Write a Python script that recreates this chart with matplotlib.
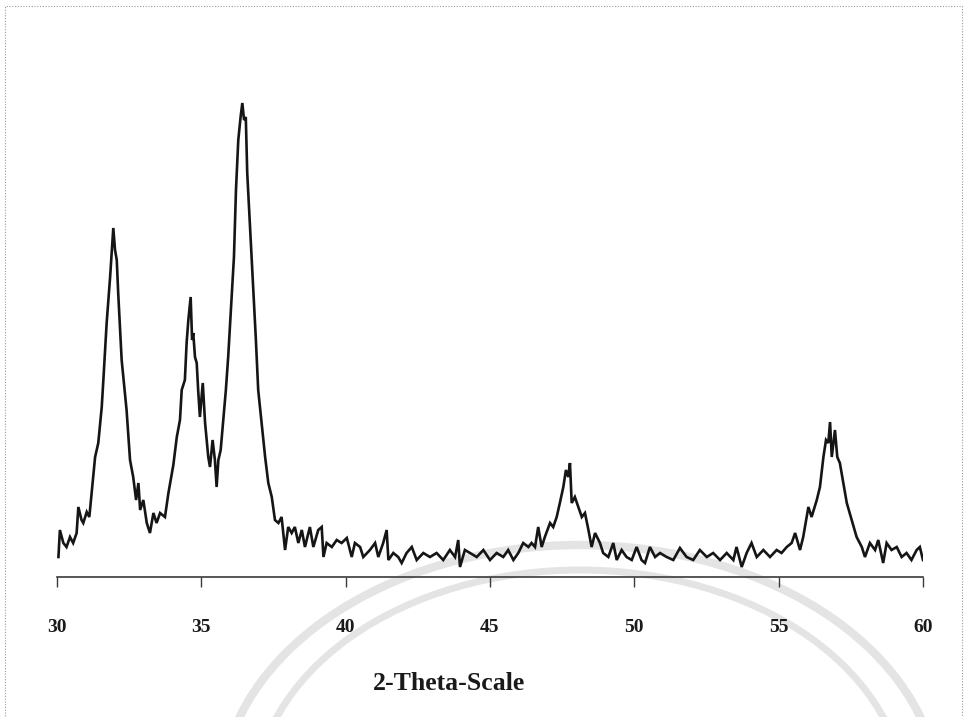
import matplotlib
matplotlib.use("Agg")
import matplotlib.pyplot as plt
from matplotlib.patches import Arc, Rectangle

two_theta = [
    30.05, 30.10, 30.22, 30.33, 30.45, 30.56, 30.68, 30.74, 30.85, 30.91,
    31.03, 31.12, 31.20, 31.32, 31.43, 31.55, 31.60, 31.72, 31.84, 31.95,
    32.01, 32.07, 32.12, 32.24, 32.41, 32.53, 32.64, 32.74, 32.82, 32.88,
    32.99, 33.11, 33.22, 33.34, 33.45, 33.57, 33.74, 33.86, 34.03, 34.15,
    34.26, 34.32, 34.43, 34.49, 34.55, 34.63, 34.68, 34.72, 34.78, 34.84,
    34.89, 34.95, 35.05, 35.13, 35.24, 35.30, 35.39, 35.47, 35.53, 35.59,
    35.67, 35.76, 35.85, 35.93, 36.05, 36.13, 36.20, 36.28, 36.36, 36.42,
    36.48, 36.54, 36.59, 36.68, 36.80, 36.89, 36.97, 37.09, 37.21, 37.32,
    37.44, 37.55, 37.67, 37.78, 37.90, 38.01, 38.13, 38.24, 38.36, 38.48,
    38.59, 38.76, 38.88, 39.05, 39.17, 39.23, 39.34, 39.52, 39.69, 39.86,
    40.04, 40.21, 40.32, 40.50, 40.61, 40.84, 41.02, 41.13, 41.30, 41.42,
    41.48, 41.65, 41.82, 41.94, 42.11, 42.29, 42.46, 42.69, 42.92, 43.15,
    43.38, 43.61, 43.79, 43.90, 43.96, 44.13, 44.31, 44.54, 44.77, 45.00,
    45.23, 45.46, 45.63, 45.81, 45.98, 46.15, 46.33, 46.44, 46.56, 46.67,
    46.79, 46.90, 47.08, 47.19, 47.31, 47.42, 47.54, 47.63, 47.71, 47.77,
    47.83, 47.94, 48.06, 48.18, 48.29, 48.41, 48.52, 48.64, 48.81, 48.92,
    49.10, 49.27, 49.39, 49.56, 49.73, 49.91, 50.08, 50.25, 50.37, 50.54,
    50.72, 50.89, 51.12, 51.35, 51.58, 51.81, 52.04, 52.27, 52.51, 52.73,
    52.97, 53.20, 53.43, 53.54, 53.72, 53.89, 54.06, 54.24, 54.47, 54.70,
    54.93, 55.10, 55.28, 55.45, 55.57, 55.74, 55.85, 56.03, 56.14, 56.32,
    56.43, 56.55, 56.64, 56.72, 56.78, 56.84, 56.95, 57.03, 57.12, 57.24,
    57.36, 57.53, 57.70, 57.88, 57.99, 58.16, 58.34, 58.45, 58.62, 58.74,
    58.91, 59.09, 59.26, 59.43, 59.60, 59.78, 59.89, 60.00,
]
intensity = [
    20, 47, 34, 30, 40, 34, 44, 70, 57, 54,
    65, 60, 84, 120, 134, 170, 194, 254, 300, 349,
    327, 317, 284, 217, 167, 117, 100, 77, 94, 67,
    77, 54, 44, 64, 54, 64, 60, 84, 112, 140,
    157, 187, 197, 234, 257, 280, 237, 244, 220, 214,
    187, 160, 194, 154, 120, 110, 137, 117, 90, 117,
    127, 157, 187, 220, 280, 320, 387, 437, 460, 474,
    457, 460, 404, 354, 287, 237, 187, 154, 120, 94,
    80, 57, 54, 60, 27, 50, 44, 50, 34, 47,
    30, 50, 30, 47, 50, 20, 34, 30, 37, 34,
    39, 20, 34, 30, 20, 27, 34, 20, 34, 47,
    17, 24, 20, 14, 24, 30, 17, 24, 20, 24,
    17, 27, 20, 37, 10, 27, 24, 20, 27, 17,
    24, 20, 27, 17, 24, 34, 30, 34, 30, 50,
    30, 40, 54, 50, 60, 74, 90, 107, 100, 114,
    74, 80, 70, 60, 64, 47, 30, 44, 34, 24,
    20, 34, 17, 27, 20, 17, 30, 17, 14, 30,
    20, 24, 20, 17, 29, 20, 17, 27, 20, 24,
    17, 24, 17, 30, 10, 24, 34, 20, 27, 20,
    27, 24, 30, 34, 44, 27, 40, 70, 60, 77,
    90, 120, 137, 134, 155, 120, 147, 120, 114, 94,
    74, 57, 40, 30, 20, 34, 27, 37, 14, 34,
    27, 30, 20, 24, 17, 27, 30, 17,
]

x_ticks = [30, 35, 40, 45, 50, 55, 60]
x_label = "2-Theta-Scale"

W, H = 966, 717
fig = plt.figure(figsize=(W / 100, H / 100), dpi=100)
fig.patch.set_facecolor("white")

# faint background watermark arcs (figure pixel space)
for (cx, cy, w, h, lw) in [(580, 800, 720, 510, 6), (580, 800, 650, 460, 5)]:
    fig.add_artist(Arc((cx / W, 1 - cy / H), w / W, h / H, theta1=0, theta2=180,
                       transform=fig.transFigure, color="#e4e4e4", lw=lw, zorder=0))

# dotted frame
fig.add_artist(Rectangle((5 / W, -0.05), 957 / W, 1 - 6 / H + 0.05,
                         transform=fig.transFigure, fill=False,
                         ls=(0, (1, 1.5)), lw=0.8, ec="#9a9a9a", zorder=0))

left, right = 57 / W, 923 / W
bottom, top = 1 - 577 / H, 1 - 90 / H
ax = fig.add_axes([left, bottom, right - left, top - bottom])
ax.patch.set_alpha(0)

ax.plot(two_theta, intensity, color="#151515", lw=1.9, solid_joinstyle="miter")

ax.set_xlim(30, 60)
ax.set_ylim(0, 487)
for s in ("top", "right", "left"):
    ax.spines[s].set_visible(False)
ax.spines["bottom"].set_color("#3a3a3a")
ax.spines["bottom"].set_linewidth(1.2)
ax.set_yticks([])
ax.set_xticks(x_ticks)
ax.set_xticklabels([str(t) for t in x_ticks], fontfamily="Liberation Serif",
                   fontweight="bold", fontsize=14, color="#1a1a1a")
ax.tick_params(axis="x", direction="out", length=7.5, width=1.0,
               color="#3a3a3a", pad=23)

ax.set_xlabel(x_label, fontfamily="Liberation Serif", fontweight="bold",
              fontsize=18.5, color="#1a1a1a", va="center")
ax.xaxis.set_label_coords((449 - 57) / 866, (577 - 683) / 487)

fig.savefig("out.png", dpi=100)
